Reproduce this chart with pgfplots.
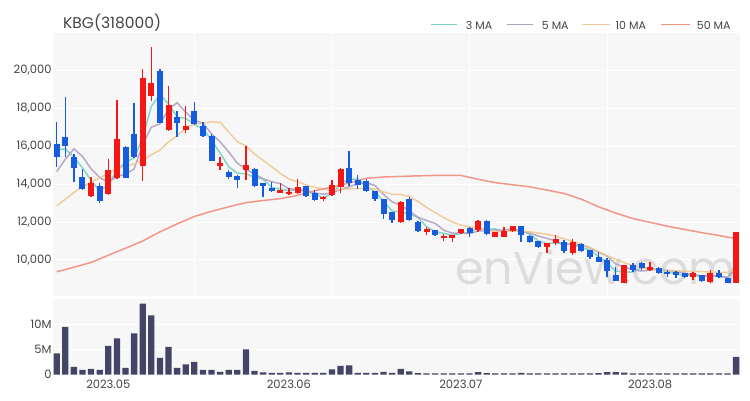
\documentclass[border=0pt]{standalone}
\usepackage{fontspec}
\setmainfont{Poppins}
\usepackage{pgfplots}
\usepackage{pgfplotstable}
\pgfplotsset{compat=1.18}
\definecolor{upc}{RGB}{245,22,22}
\definecolor{dnc}{RGB}{22,92,222}
\definecolor{volc}{RGB}{67,68,102}
\definecolor{bgc}{RGB}{247,247,248}
\definecolor{ma3}{RGB}{120,210,195}
\definecolor{ma5}{RGB}{175,160,195}
\definecolor{ma10}{RGB}{240,200,145}
\definecolor{ma50}{RGB}{242,140,125}
\definecolor{txt}{RGB}{68,68,68}
\definecolor{wm}{RGB}{220,220,220}

\pgfplotstableread{
i o h l c
4 13380 14380 13330 14030
6 13470 15300 13420 14740
7 14300 18420 14250 16370
10 14950 20040 14170 19560
11 18630 21200 18380 19300
13 16840 19160 16800 18140
15 16840 18100 16670 17050
19 14950 15420 14740 15120
22 14740 16000 14230 14980
26 13550 14030 13510 13680
27 13480 13770 13420 13600
28 13510 14250 13470 13860
31 13200 13370 13120 13300
32 13420 14210 13390 13950
33 13860 14860 13540 14790
40 12020 13120 11965 13070
43 11480 11720 11320 11610
45 11180 11370 11020 11280
46 11140 11330 10970 11310
47 11400 11650 11350 11610
49 11580 12110 11490 12070
51 11230 11500 11190 11490
52 11190 11720 11190 11530
53 11530 11800 11490 11790
57 10670 10920 10390 10910
58 10910 11320 10790 11090
60 10350 11090 10260 10960
66 8810 9750 8770 9740
69 9470 9910 9440 9650
74 9120 9390 8950 9330
76 8860 9470 8810 9330
79 8810 11490 8770 11460
}\up

\pgfplotstableread{
i o h l c
0 16100 17280 14900 15400
1 16490 18600 15430 16000
2 15440 15580 14120 14830
3 14380 14770 13680 13720
5 13900 14040 12980 13120
8 15960 16000 14300 14330
9 16630 18250 15350 15400
12 19960 20050 17190 17230
14 17510 17860 16460 17190
16 17860 18330 17100 17160
17 17050 17280 16490 16530
18 16530 16630 15190 15230
20 14650 14740 14250 14390
21 14420 14450 13770 14210
23 14800 14850 13860 13900
24 14030 14050 13330 13900
25 13770 14120 13600 13630
29 13900 13910 13330 13370
30 13540 13680 13120 13160
34 14830 15720 13900 14040
35 14210 14470 13730 13950
36 14150 14250 13600 13630
37 13630 13640 13130 13210
38 13210 13210 12160 12420
39 12510 12510 11960 12100
41 13190 13300 12030 12100
42 12020 12030 11490 11540
44 11580 11590 11260 11320
48 11700 11720 11230 11400
50 12070 12080 11320 11350
54 11790 11800 10970 11320
55 11260 11320 10910 10970
56 11000 11010 10610 10700
59 10960 11050 10390 10490
61 10840 10910 10440 10490
62 10530 10530 10040 10180
63 10180 10440 9900 9910
64 10000 10090 9120 9440
65 9210 9650 8900 8910
67 9740 9860 9390 9470
68 9820 9910 9470 9560
70 9600 9610 9260 9300
71 9390 9470 9120 9260
72 9390 9400 9040 9210
73 9300 9330 9030 9090
75 9210 9220 8860 8910
77 9330 9470 9060 9090
78 9040 9050 8770 8810
}\dn

\pgfplotstableread{
i m3 m5 m10
0 15800 14650 12850
1 15850 15300 13200
2 15410 15850 13550
3 14850 15450 13860
4 14190 14800 14100
5 13620 14340 14330
6 13960 14090 14560
7 14740 14400 14800
8 15150 14520 14950
9 15370 14790 15050
10 16430 16080 15250
11 18090 16990 15540
12 18700 17160 15780
13 18220 17930 16220
14 17520 18280 16540
15 17460 17780 16930
16 17130 17350 17170
17 16910 17210 17190
18 16310 16630 17280
19 15630 16220 17250
20 14910 15690 16730
21 14570 15100 16230
22 14530 14790 16000
23 14360 14520 15580
24 14260 14280 15250
25 13810 14120 14910
26 13740 14020 14560
27 13640 13740 14260
28 13710 13730 14130
29 13610 13630 13950
30 13460 13530 13830
31 13280 13460 13740
32 13470 13530 13640
33 14010 13710 13720
34 14260 13850 13740
35 14260 14010 13770
36 13870 14070 13770
37 13600 13920 13730
38 13090 13450 13580
39 12580 13060 13460
40 12530 12890 13450
41 12420 12580 13330
42 12240 12250 13090
43 11750 12080 12770
44 11490 11930 12500
45 11400 11570 12230
46 11300 11410 12000
47 11400 11430 11840
48 11440 11380 11730
49 11690 11530 11730
50 11610 11550 11560
51 11640 11580 11500
52 11460 11570 11500
53 11600 11650 11520
54 11550 11500 11520
55 11360 11420 11480
56 11000 11260 11420
57 10860 11140 11350
58 10900 11000 11250
59 10830 10830 11120
60 10850 10830 10980
61 10650 10790 10830
62 10540 10640 10660
63 10190 10410 10440
64 9840 10200 10230
65 9420 9790 10030
66 9360 9640 9860
67 9370 9490 9700
68 9590 9420 9580
69 9560 9470 9510
70 9500 9540 9470
71 9400 9450 9450
72 9260 9400 9430
73 9190 9300 9410
74 9210 9240 9400
75 9110 9160 9390
76 9190 9170 9370
77 9110 9150 9350
78 9080 9090 9340
79 9790 9520 9520
}\ma

\pgfplotstableread{
i v
0 9380
2 9620
4 9870
6 10250
8 10620
10 11000
12 11480
14 11900
16 12290
18 12560
20 12800
22 13020
24 13130
26 13230
28 13400
30 13650
32 13830
34 14050
36 14300
38 14370
40 14400
42 14430
44 14450
46 14460
47 14450
49 14250
51 14070
53 13960
55 13850
57 13680
59 13500
61 13200
63 12800
65 12470
67 12180
69 11980
71 11780
73 11610
75 11440
77 11290
79 11120
}\mafifty

\pgfplotstableread{
i v
0 4.2
1 9.5
2 1.5
3 0.9
4 1.1
5 0.9
6 5.7
7 7.2
8 1.3
9 8.2
10 14.1
11 11.8
12 3.3
13 5.5
14 1.3
15 2.0
16 2.5
17 0.9
18 0.9
19 0.5
20 0.9
21 0.9
22 5.0
23 0.7
24 0.4
25 0.3
26 0.3
27 0.4
28 0.3
29 0.3
30 0.3
31 0.3
32 1.0
33 1.7
34 1.8
35 0.3
36 0.3
37 0.3
38 0.5
39 0.3
40 1.1
41 0.6
42 0.25
43 0.2
44 0.2
45 0.2
46 0.2
47 0.2
48 0.2
49 0.45
50 0.25
51 0.2
52 0.2
53 0.2
54 0.3
55 0.2
56 0.2
57 0.2
58 0.2
59 0.2
60 0.2
61 0.2
62 0.2
63 0.25
64 0.45
65 0.45
66 0.35
67 0.2
68 0.2
69 0.2
70 0.2
71 0.2
72 0.2
73 0.2
74 0.2
75 0.2
76 0.2
77 0.2
78 0.2
79 3.5
}\vol

\pgfplotsset{
  candle/.style 2 args={forget plot, only marks, mark=none, mark size=0pt,
    mark options={draw=none, fill=none},
    error bars/.cd, y dir=both, y explicit, error mark=none,
    error bar style={draw=#1, line width=#2}},
}

\begin{document}
\begin{tikzpicture}
\path[use as bounding box] (0,0) rectangle (750pt,400pt);
\node[anchor=base west, inner sep=0pt, font=\fontsize{15.5}{16}\selectfont, text=txt] at (63pt,371.7pt) {KBG(318000)};

% legend
\begin{scope}[font=\fontsize{11}{12}\selectfont, text=txt]
\draw[ma3, line width=1.5pt] (431pt,375.7pt) -- (457pt,375.7pt);
\node[anchor=base west, inner sep=0pt] at (465.7pt,370.7pt) {3 MA};
\draw[ma5, line width=1.5pt] (506.7pt,375.7pt) -- (533.3pt,375.7pt);
\node[anchor=base west, inner sep=0pt] at (541.7pt,370.7pt) {5 MA};
\draw[ma10, line width=1.5pt] (582.3pt,375.7pt) -- (610pt,375.7pt);
\node[anchor=base west, inner sep=0pt] at (615.5pt,370.7pt) {10 MA};
\draw[ma50, line width=1.5pt] (661pt,375.7pt) -- (690pt,375.7pt);
\node[anchor=base west, inner sep=0pt] at (696.7pt,370.7pt) {50 MA};
\end{scope}

\begin{axis}[
  at={(53.3pt,104pt)}, anchor=south west,
  scale only axis, width=686.7pt, height=262.7pt,
  xmin=-0.395, xmax=79.45, ymin=8105, ymax=21932,
  axis background/.style={fill=bgc},
  axis line style={draw=none},
  major tick length=0pt,
  xtick={16,32,48,64}, xticklabels={},
  ytick={10000,12000,14000,16000,18000,20000},
  scaled y ticks=false,
  grid=major, grid style={white, line width=1pt},
  yticklabel style={font=\fontsize{11.5}{12}\selectfont, text=txt, anchor=east, inner sep=0pt, xshift=-1.6pt},
  /pgf/number format/1000 sep={,},
  /pgf/number format/assume math mode=true,
]
\node[anchor=base, inner sep=0pt, font=\fontsize{46}{46}\selectfont, text=wm] at (rel axis cs:0.79,0.042) {enView.com};

\addplot[forget plot, ma3, line width=1.5pt, opacity=0.9] table[x=i, y=m3] {\ma};
\addplot[forget plot, ma5, line width=1.5pt, opacity=0.9] table[x=i, y=m5] {\ma};
\addplot[forget plot, ma10, line width=1.5pt, opacity=0.9] table[x=i, y=m10] {\ma};
\addplot[forget plot, ma50, line width=1.5pt, opacity=0.9] table[x=i, y=v] {\mafifty};

% down candles
\addplot[candle={dnc}{1.3pt}]
  table[x=i, y expr={(\thisrow{h}+\thisrow{l})/2}, y error expr={(\thisrow{h}-\thisrow{l})/2}] {\dn};
\addplot[candle={dnc}{6pt}]
  table[x=i, y expr={(\thisrow{o}+\thisrow{c})/2}, y error expr={abs(\thisrow{o}-\thisrow{c})/2}] {\dn};
% up candles
\addplot[candle={upc}{1.3pt}]
  table[x=i, y expr={(\thisrow{h}+\thisrow{l})/2}, y error expr={(\thisrow{h}-\thisrow{l})/2}] {\up};
\addplot[candle={upc}{6pt}]
  table[x=i, y expr={(\thisrow{o}+\thisrow{c})/2}, y error expr={abs(\thisrow{o}-\thisrow{c})/2}] {\up};
\end{axis}

\begin{axis}[
  at={(53.3pt,25.5pt)}, anchor=south west,
  scale only axis, width=686.7pt, height=75.5pt,
  xmin=-0.395, xmax=79.45, ymin=0, ymax=15.04,
  axis background/.style={fill=bgc},
  axis line style={draw=none},
  major tick length=0pt,
  xtick={6,27,47,69}, xticklabels={2023.05,2023.06,2023.07,2023.08},
  ytick={0,5,10}, yticklabels={0,5M,10M},
  ymajorgrids, grid style={white, line width=1pt},
  yticklabel style={font=\fontsize{11.5}{12}\selectfont, text=txt, anchor=east, inner sep=0pt, xshift=-1.6pt},
  xticklabel style={font=\fontsize{11.5}{12}\selectfont, text=txt, anchor=north, inner sep=0pt, yshift=-5.3pt},
]
\addplot[ybar, bar width=6.3pt, fill=volc, draw=none] table[x=i, y=v] {\vol};
\end{axis}
\end{tikzpicture}
\end{document}
